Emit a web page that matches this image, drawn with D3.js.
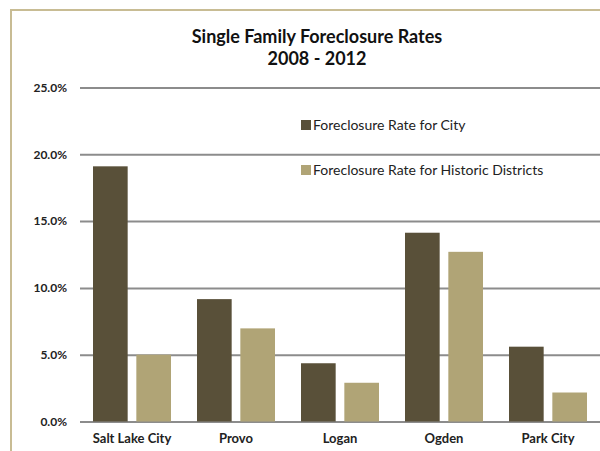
<!DOCTYPE html>
<html>
<head>
<meta charset="utf-8">
<script src="https://cdn.jsdelivr.net/npm/d3@7"></script>
<style>
  body { margin: 0; background: #fff; overflow: hidden; }
  svg { display: block; }
</style>
</head>
<body>
<script>
var w = 600; // width of SVG space
var h = 451; // height of SVG space

// data
var cities = ["Salt Lake City", "Provo", "Logan", "Ogden", "Park City"];
var seriesNames = ["Foreclosure Rate for City", "Foreclosure Rate for Historic Districts"];
var cityRate = [0.191, 0.0916, 0.0436, 0.1413, 0.056];
var historicRate = [0.050, 0.0697, 0.029, 0.127, 0.0217];
var yTicks = [0, 0.05, 0.10, 0.15, 0.20, 0.25];
var colors = ["#595039", "#b0a476"];

var rows = cities.map(function (c, i) {
    return { city: c, values: [cityRate[i], historicRate[i]] };
});

var svg = d3.select("body").append("svg").attr("width", w).attr("height", h);
var font = "Lato, 'Open Sans', sans-serif";

// outer frame (runs off the right and bottom edge)
svg.append("path")
    .attr("d", "M11," + h + "V10H" + w)
    .style("fill", "none")
    .style("stroke", "#c8bc94")
    .style("stroke-width", 2);

// title
svg.append("text").text("Single Family Foreclosure Rates")
    .attr("x", 317).attr("y", 43)
    .attr("text-anchor", "middle")
    .style("font-family", font).style("font-weight", "bold").style("font-size", "18px")
    .style("fill", "#111");
svg.append("text").text("2008 - 2012")
    .attr("x", 317).attr("y", 65)
    .attr("text-anchor", "middle")
    .style("font-family", font).style("font-weight", "bold").style("font-size", "18px")
    .style("fill", "#111");

var x0 = d3.scaleBand().domain(cities).range([80, 600])
    .paddingInner(0.25).paddingOuter(0.125);
var x1 = d3.scaleBand().domain([0, 1]).range([0, x0.bandwidth()])
    .paddingInner(0.2);
var yScale = d3.scaleLinear().domain([0, 0.25]).range([421.5, 87.5]);

// gridlines + y labels
var yAxis = d3.axisLeft(yScale).tickValues(yTicks)
    .tickSize(-520).tickPadding(13)
    .tickFormat(d3.format(".1%"));
var gy = svg.append("g").attr("transform", "translate(80,0)").call(yAxis);
gy.select(".domain").remove();
gy.selectAll(".tick line").style("stroke", "#8c8c8c").style("stroke-width", 2);
gy.selectAll(".tick text")
    .style("font-family", font).style("font-weight", "bold").style("font-size", "12px")
    .style("fill", "#222");

// bars
var groups = svg.selectAll("g.city").data(rows).enter().append("g")
    .attr("class", "city")
    .attr("transform", function (d) { return "translate(" + x0(d.city) + ",0)"; });
groups.selectAll("rect").data(function (d) { return d.values; }).enter().append("rect")
    .attr("x", function (d, i) { return x1(i); })
    .attr("y", function (d) { return yScale(d); })
    .attr("width", x1.bandwidth())
    .attr("height", function (d) { return yScale(0) - yScale(d); })
    .style("fill", function (d, i) { return colors[i]; });

// x labels
var xAxis = d3.axisBottom(x0).tickSize(0).tickPadding(12);
var gx = svg.append("g").attr("transform", "translate(0," + yScale(0) + ")").call(xAxis);
gx.select(".domain").remove();
gx.selectAll(".tick text")
    .style("font-family", font).style("font-weight", "bold").style("font-size", "13px")
    .style("fill", "#222");

// legend
var legend = svg.selectAll("g.legend").data(seriesNames).enter().append("g")
    .attr("class", "legend")
    .attr("transform", function (d, i) { return "translate(301," + (120 + i * 45) + ")"; });
legend.append("rect").attr("width", 10).attr("height", 10)
    .style("fill", function (d, i) { return colors[i]; });
legend.append("text").text(function (d) { return d; })
    .attr("x", 12).attr("y", 10)
    .style("font-family", font).style("font-size", "14px")
    .style("fill", "#222");
</script>
</body>
</html>
